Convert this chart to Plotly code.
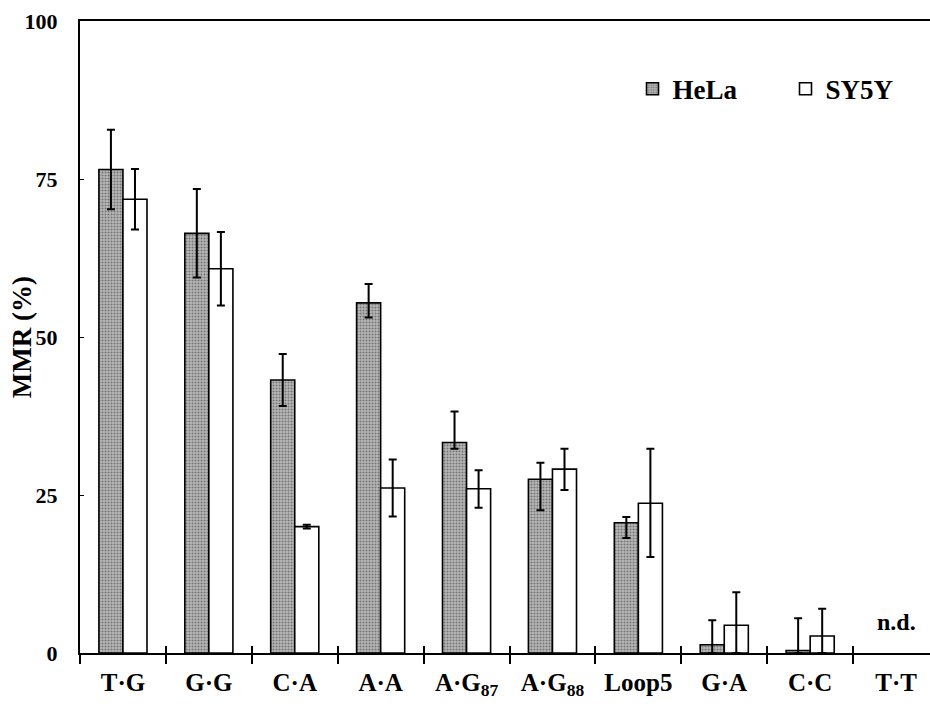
import plotly.graph_objects as go

categories = ["T·G", "G·G", "C·A", "A·A", "A·G<sub>87</sub>", "A·G<sub>88</sub>",
              "Loop5", "G·A", "C·C", "T·T"]
hela = [76.5, 66.4, 43.2, 55.4, 33.3, 27.5, 20.6, 1.3, 0.4, None]
hela_err_plus = [6.3, 7.0, 4.1, 3.0, 4.9, 2.6, 0.9, 3.9, 5.1, None]
hela_err_minus = [6.3, 7.0, 4.1, 2.3, 1.0, 4.9, 2.4, 1.3, 0.4, None]
sy5y = [71.8, 60.8, 20.0, 26.1, 26.0, 29.1, 23.7, 4.4, 2.7, None]
sy5y_err_plus = [4.8, 5.8, 0.3, 4.5, 2.9, 3.2, 8.6, 5.2, 4.3, None]
sy5y_err_minus = [4.8, 5.8, 0.3, 4.5, 3.0, 3.3, 8.5, 4.4, 2.7, None]
y_ticks = [0, 25, 50, 75, 100]

FONT = "Liberation Serif"


def f(size):
    return dict(family=FONT, size=size, color="black", weight="bold")


fig = go.Figure()
fig.add_trace(go.Bar(
    name="HeLa", x=categories, y=hela,
    marker=dict(color="#b0b0b0", line=dict(color="black", width=1.6),
                pattern=dict(shape=".", fgcolor="#333333", bgcolor="#b8b8b8",
                             size=3, solidity=0.4)),
    error_y=dict(type="data", symmetric=False, array=hela_err_plus,
                 arrayminus=hela_err_minus, color="black", thickness=2, width=4),
))
fig.add_trace(go.Bar(
    name="SY5Y", x=categories, y=sy5y,
    marker=dict(color="white", line=dict(color="black", width=1.6)),
    error_y=dict(type="data", symmetric=False, array=sy5y_err_plus,
                 arrayminus=sy5y_err_minus, color="black", thickness=2, width=4),
))
# invisible helper trace for the inner half of the category tick marks
fig.add_trace(go.Scatter(
    x=categories, y=[0] * len(categories), xaxis="x2", mode="markers",
    marker=dict(opacity=0), showlegend=False, hoverinfo="skip",
))

fig.add_annotation(x="T·T", y=0, yanchor="bottom", yshift=16, showarrow=False,
                   text="n.d.", font=f(24))
fig.add_annotation(x=-0.068, y=0.5, xref="paper", yref="paper", textangle=-90,
                   showarrow=False, text="MMR (%)", font=f(27),
                   xanchor="center", yanchor="middle")

xrange = [-0.5, 9.395]
fig.update_layout(
    width=930, height=704,
    margin=dict(l=80, r=0, t=21, b=51, autoexpand=False),
    paper_bgcolor="white", plot_bgcolor="white",
    barmode="group", bargap=0.44, bargroupgap=0,
    font=dict(family=FONT, color="black"),
    showlegend=True,
    legend=dict(orientation="h", x=0.650, y=0.892, xanchor="left", yanchor="middle",
                font=f(27), entrywidth=108, bgcolor="rgba(0,0,0,0)",
                traceorder="normal"),
    xaxis=dict(type="category", categoryorder="array", categoryarray=categories,
               range=xrange, showline=True, linecolor="black", linewidth=2,
               mirror=True, ticks="outside", ticklen=9, tickwidth=1.5,
               tickcolor="black", tickson="boundaries", showgrid=False,
               tickfont=f(25), ticklabelstandoff=6, zeroline=False,
               automargin=False),
    xaxis2=dict(type="category", categoryorder="array", categoryarray=categories,
                range=xrange, overlaying="x", anchor="y", side="bottom",
                showline=False, ticks="inside", ticklen=7, tickwidth=1.5,
                tickcolor="black", tickson="boundaries", showticklabels=False,
                showgrid=False, zeroline=False, automargin=False),
    yaxis=dict(range=[0, 100], tickvals=y_ticks,
               showline=True, linecolor="black", linewidth=2, ticks="inside",
               ticklen=4, tickcolor="black", showgrid=False, zeroline=False,
               tickfont=f(22), ticklabelstandoff=16, automargin=False),
)

fig.write_html("out.html")
